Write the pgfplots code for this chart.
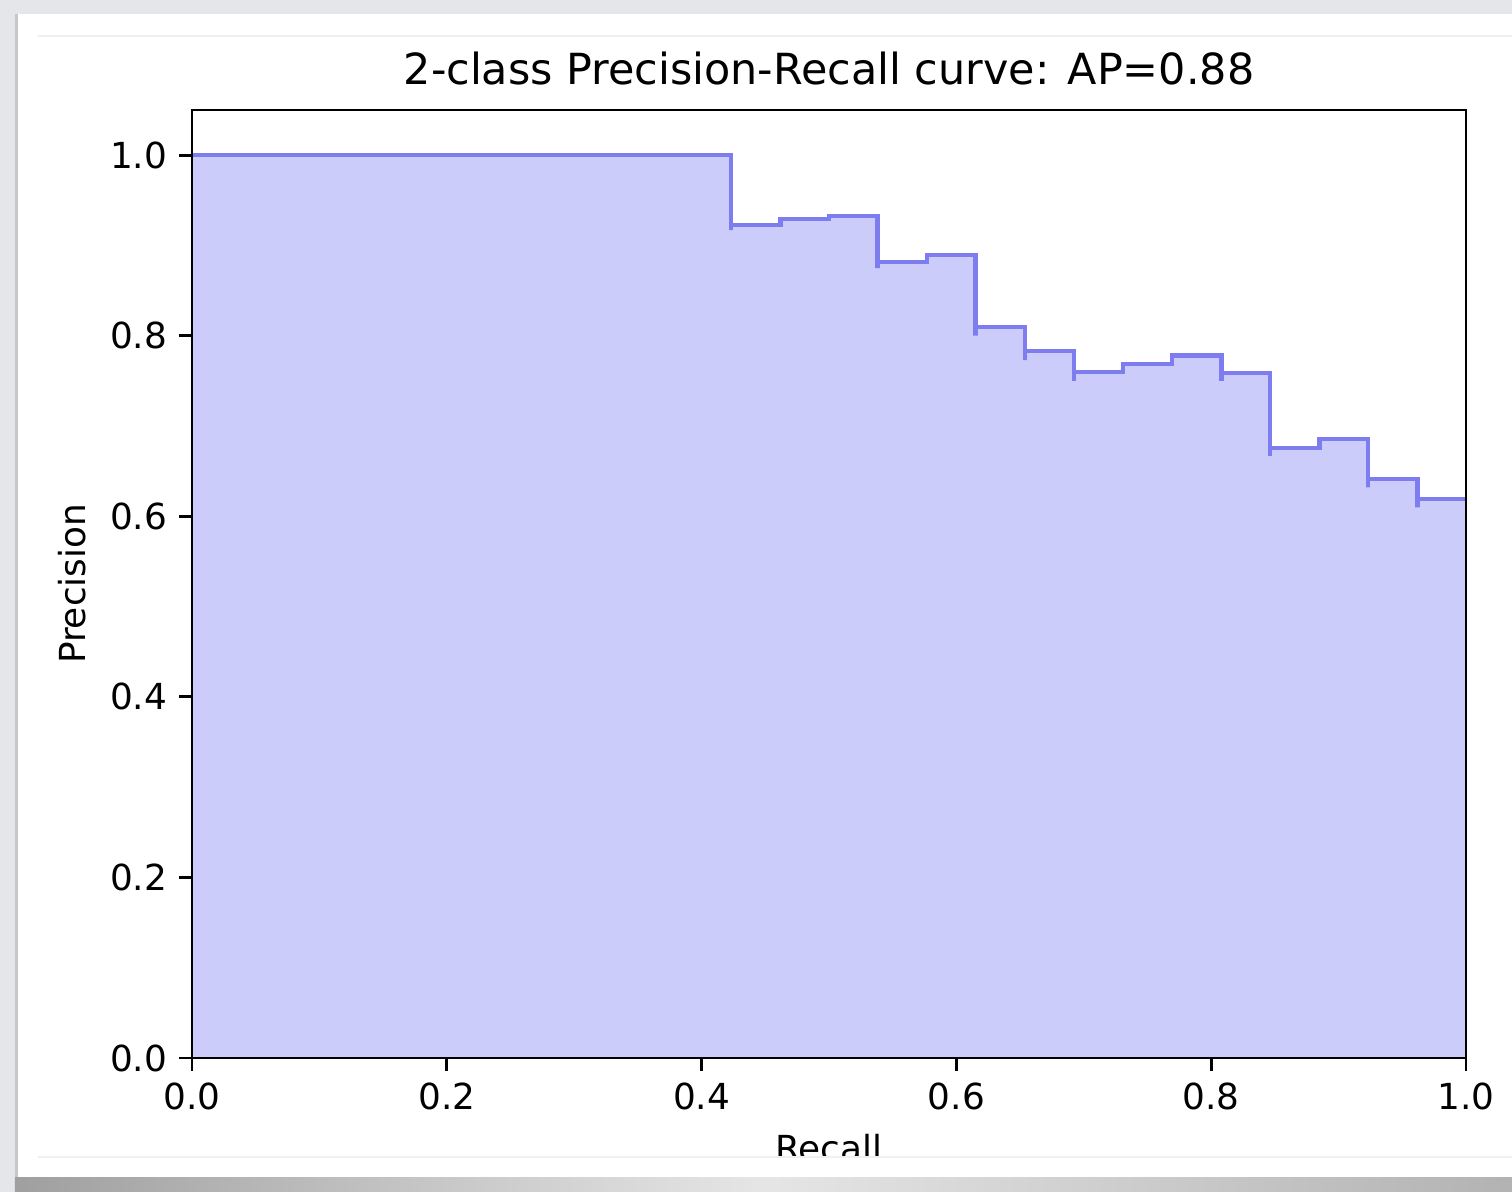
\documentclass[border=0pt]{standalone}
\usepackage{pgfplots}
\pgfplotsset{compat=1.18}
\usepackage{pgfplotstable}
\usepackage{fontspec}
\setmainfont{DejaVu Sans}

\definecolor{prfill}{RGB}{204,204,250}
\definecolor{prline}{RGB}{125,125,240}
\definecolor{bggray}{RGB}{228,230,233}

% step curve (recall, precision)
\pgfplotstableread{
r      p
0.000  1.000
0.423  1.000
0.423  0.917
0.423  0.923
0.462  0.923
0.462  0.929
0.500  0.929
0.500  0.933
0.538  0.933
0.538  0.875
0.538  0.882
0.577  0.882
0.577  0.889
0.615  0.889
0.615  0.800
0.615  0.810
0.654  0.810
0.654  0.773
0.654  0.783
0.692  0.783
0.692  0.750
0.692  0.760
0.731  0.760
0.731  0.769
0.769  0.769
0.769  0.778
0.808  0.778
0.808  0.750
0.808  0.759
0.846  0.759
0.846  0.667
0.846  0.676
0.885  0.676
0.885  0.686
0.923  0.686
0.923  0.632
0.923  0.641
0.962  0.641
0.962  0.610
0.962  0.619
1.000  0.619
}\prcurve

\begin{document}
\begin{tikzpicture}[x=1cm,y=1cm]
\useasboundingbox (0,0) rectangle (15.12,-11.92);
\fill[bggray] (0,0) rectangle (15.12,-11.92);
\fill[gray!45] (0.15,-0.14) rectangle (15.12,-11.77);
\fill[white] (0.18,-0.14) rectangle (15.12,-11.77);
\draw[gray!12] (0.38,-0.36) -- (15.12,-0.36);

\begin{axis}[
  at={(1.92cm,-10.58cm)}, anchor=south west,
  scale only axis, width=12.74cm, height=9.48cm,
  xmin=0, xmax=1, ymin=0, ymax=1.05,
  xtick={0,0.2,...,1.0}, ytick={0,0.2,...,1.0},
  /pgf/number format/.cd, fixed, fixed zerofill, precision=1, assume math mode=true,
  /pgfplots/.cd,
  tick align=outside, major tick length=1.25mm,
  tick style={black, line width=0.8pt},
  xtick pos=bottom, ytick pos=left,
  axis line style={black, line width=0.8pt},
  axis on top,
  ticklabel style={font=\fontsize{10.2}{12}\selectfont},
  title={2-class Precision-Recall curve: AP=0.88},
  title style={font=\fontsize{12.2}{14}\selectfont, anchor=base, at={(0.5,1)}, yshift=0.4mm},
  xlabel={Recall}, ylabel={Precision},
  label style={font=\fontsize{10.2}{12}\selectfont},
]
\addplot[fill=prfill, draw=none] table[x=r, y=p] {\prcurve} \closedcycle;
\addplot[prline, line width=1.2pt] table[x=r, y=p] {\prcurve};
\end{axis}

\fill[white] (0.18,-11.57) rectangle (15.12,-11.77);
\draw[gray!12] (0.38,-11.57) -- (15.12,-11.57);
\shade[left color=gray!75, right color=gray!60, middle color=gray!20] (0.15,-11.77) rectangle (15.12,-11.92);
\end{tikzpicture}
\end{document}
